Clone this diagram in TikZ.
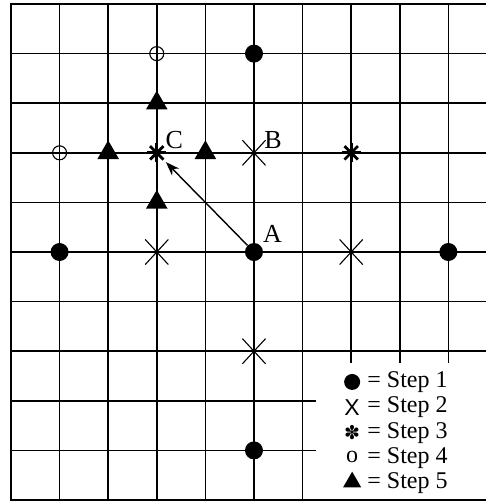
\documentclass[tikz,border=0pt]{standalone}
\usepackage{fontspec}
\setmainfont{Liberation Serif}
\newfontfamily\symfont{DejaVu Sans}
\newfontfamily\keyxfont{Liberation Sans}
\usetikzlibrary{shapes.misc,shapes.geometric,arrows.meta}

\tikzset{
    aster/.pic={
        \foreach \a in {0,45,90,135}
            \draw[line width=2.8pt] (\a:9.5pt) -- (\a+180:9.5pt);
    },
}

\begin{document}
\begin{tikzpicture}[
    x=48.6pt, y=-49.6pt,
    gridline/.style={line width=1.6pt, line cap=rect},
    dot/.style={circle, fill=black, minimum size=18pt, inner sep=0pt},
    xmark/.style={cross out, draw, line width=1.1pt, minimum width=22pt, minimum height=24pt, inner sep=0pt},
    ring/.style={circle, draw, line width=1.1pt, minimum size=14pt, inner sep=0pt},
    tri/.style={regular polygon, regular polygon sides=3, fill=black, minimum size=25pt, inner sep=0pt},
    lbl/.style={font=\fontsize{26}{26}\selectfont, inner sep=0pt},
    key/.style={font=\fontsize{24}{24}\selectfont, anchor=west, inner sep=0pt},
    arr/.style={-{Stealth[length=14pt, width=10pt]}, line width=1.4pt, shorten >=13pt},
]
\useasboundingbox (-0.226,-0.081) rectangle (9.774,10.02);

% grid
\foreach \i in {0,...,6} \draw[gridline] (\i,0) -- (\i,10);
\foreach \i in {7,8,9} \draw[gridline] (\i,0) -- (\i,7.22);
\foreach \j in {0,...,7,10} \draw[gridline] (0,\j) -- (9.8,\j);
\foreach \j in {8,9} \draw[gridline] (0,\j) -- (6.26,\j);

% step 1
\node[dot] (A) at (5,5) {};
\node[dot] (top) at (5,1) {};
\node[dot] (left) at (1,5) {};
\node[dot] (right) at (9,5) {};
\node[dot] (bottom) at (5,9) {};

% step 2
\node[xmark] (B) at (5,3) {};
\node[xmark] (xleft) at (3,5) {};
\node[xmark] (xright) at (7,5) {};
\node[xmark] (xdown) at (5,7) {};

% step 3
\coordinate (C) at (3,3);
\coordinate (D) at (7,3);
\pic at (C) {aster};
\pic at (D) {aster};

% step 4
\node[ring] (otop) at (3,1) {};
\node[ring] (oleft) at (1,3) {};

% step 5
\node[tri] (tup) at (3,2) {};
\node[tri] (tleft) at (2,3) {};
\node[tri] (tright) at (4,3) {};
\node[tri] (tdown) at (3,4) {};

% move
\draw[arr] (A) -- (C);

\node[lbl] (labA) at (5.38,4.63) {A};
\node[lbl] (labB) at (5.39,2.75) {B};
\node[lbl] (labC) at (3.36,2.75) {C};

% key
\node[dot, minimum size=16pt] (k1) at (7.02,7.62) {};
\node[inner sep=0pt, font=\keyxfont\fontsize{23}{23}\selectfont] (k2) at (7.02,8.13) {X};
\node[inner sep=0pt, font=\symfont\fontsize{19}{19}\selectfont] (k3) at (7.02,8.64) {✽};
\node[inner sep=0pt, font=\fontsize{24}{24}\selectfont] (k4) at (7.02,9.13) {o};
\node[tri, minimum size=21pt] (k5) at (7.02,9.64) {};
\node[key] (t1) at (7.33,7.62) {= Step 1};
\node[key] (t2) at (7.33,8.13) {= Step 2};
\node[key] (t3) at (7.33,8.65) {= Step 3};
\node[key] (t4) at (7.33,9.15) {= Step 4};
\node[key] (t5) at (7.33,9.66) {= Step 5};
\end{tikzpicture}
\end{document}
